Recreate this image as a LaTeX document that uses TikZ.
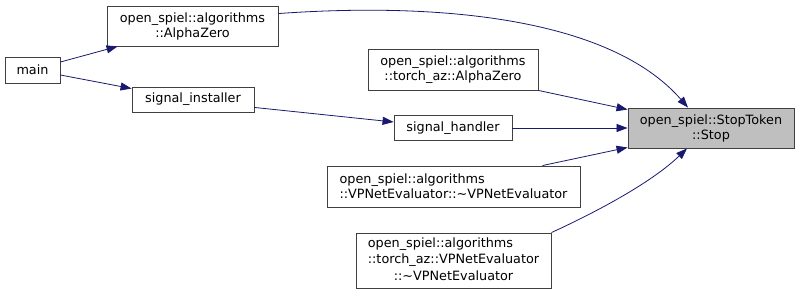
\documentclass[tikz,border=0pt]{standalone}
\usepackage{fontspec}
\setmainfont{DejaVu Sans}
\usetikzlibrary{arrows.meta,calc}
\definecolor{edgeblue}{HTML}{191970}
\definecolor{boxline}{HTML}{404040}
\definecolor{hilite}{HTML}{BFBFBF}
\begin{document}
\begin{tikzpicture}[x=1pt,y=-1pt,
  fn/.style={draw=boxline,line width=0.9pt,fill=white,inner sep=0pt,
    font=\fontsize{12.8}{15}\selectfont,align=center},
  call/.style={draw=edgeblue,line width=0.8pt,
    -{Triangle[length=11pt,width=8pt]}}]
\useasboundingbox (0,0) rectangle (800,294);

% functions
\node[fn,minimum width=55pt,minimum height=26pt] (main) at (32.5,70) {main};
\node[fn,minimum width=171pt,minimum height=40pt] (az) at (192.5,26)
  {open\_spiel::algorithms\\::AlphaZero};
\node[fn,minimum width=122pt,minimum height=25pt] (inst) at (193,99.5)
  {signal\_installer};
\node[fn,minimum width=170pt,minimum height=41pt] (taz) at (453,69.5)
  {open\_spiel::algorithms\\::torch\_az::AlphaZero};
\node[fn,minimum width=118pt,minimum height=25pt] (hand) at (453,128)
  {signal\_handler};
\node[fn,fill=hilite,minimum width=166pt,minimum height=40pt] (stop) at (711,128)
  {open\_spiel::StopToken\\::Stop};
\node[fn,align=left,minimum width=253pt,minimum height=41pt] (vp) at (453.5,186.5)
  {open\_spiel::algorithms\\::VPNetEvaluator::\textasciitilde VPNetEvaluator};
\node[fn,minimum width=195pt,minimum height=55pt] (tvp) at (453.5,260.5)
  {\renewcommand{\arraystretch}{1.1}%
   \begin{tabular}{@{}l@{}}
   open\_spiel::algorithms\\
   ::torch\_az::VPNetEvaluator\\
   \multicolumn{1}{@{}c@{}}{::\textasciitilde VPNetEvaluator}
   \end{tabular}};

% calls
\draw[call] ($(main.east)+(0,-8)$) -- ($(az.south west)+(11,0)$);
\draw[call] ($(main.east)+(0,5)$) -- ($(inst.north west)+(0,2)$);
\draw[call] ($(inst.south east)+(0,-5)$) -- ($(hand.west)+(0,-6)$);
\draw[call] ($(az.north east)+(0,8)$)
  .. controls (440,2) and (610,18) .. ($(stop.north)+(-23,0)$);
\draw[call] (taz.south east) -- ($(stop.north west)+(0,2)$);
\draw[call] (hand.east) -- (stop.west);
\draw[call] ($(vp.north east)+(-38,0)$) -- ($(stop.south west)+(0,-1)$);
\draw[call] (tvp.north east)
  .. controls (592,214) and (650,184) .. ($(stop.south)+(-24,0)$);
\end{tikzpicture}
\end{document}
